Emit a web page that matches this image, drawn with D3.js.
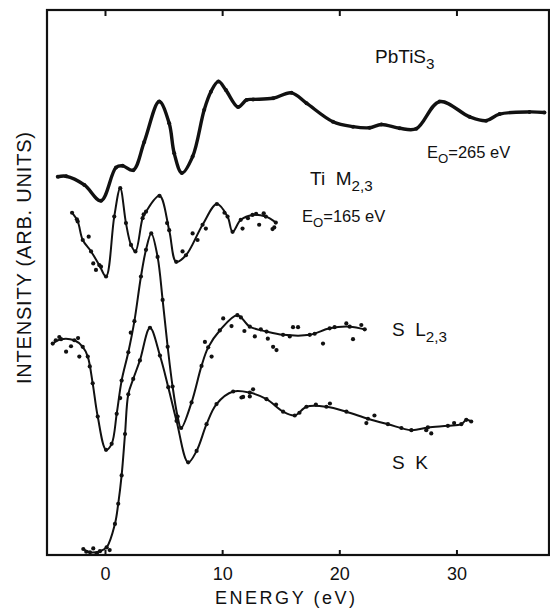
<!DOCTYPE html>
<html>
<head>
<meta charset="utf-8">
<script src="https://cdn.jsdelivr.net/npm/d3@7.9.0/dist/d3.min.js"></script>
<style>
  body { margin: 0; background: #fff; }
  svg text { font-family: "Liberation Sans", Arial, sans-serif; fill: #111; white-space: pre; }
</style>
</head>
<body>
<svg width="550" height="608"></svg>
<script>
// energy (eV) vs intensity (arb. units, 0-100)
const ti265 = [
  [-4.03, 69.4], [-3.32, 69.5], [-1.76, 67.9], [-0.34, 65.0], [0.94, 71.1], [1.51, 71.4],
  [2.41, 70.6], [3.35, 75.8], [4.63, 83.2], [5.48, 79.2], [5.91, 73.7], [6.56, 70.1],
  [7.48, 73.1], [8.47, 81.7], [9.04, 85.0], [9.68, 86.9], [10.32, 85.3], [11.36, 82.2],
  [12.08, 83.5], [12.64, 83.6], [14.35, 83.8], [15.92, 84.8], [17.20, 82.9], [19.46, 79.5],
  [21.17, 78.6], [22.59, 78.4], [23.59, 79.0], [25.15, 78.3], [26.57, 78.2], [28.56, 83.2],
  [31.12, 80.4], [32.54, 79.7], [33.68, 80.9], [36.23, 81.3], [37.51, 81.2]
];
const ti165 = [
  [-2.81, 62.8], [-2.33, 61.2], [-1.90, 57.8], [-1.19, 55.7], [-0.49, 53.2], [0.09, 51.1],
  [0.79, 62.1], [1.30, 67.3], [1.79, 60.9], [2.22, 56.9], [2.60, 55.7], [3.21, 61.8],
  [3.50, 63.0], [4.65, 65.9], [5.48, 59.6], [6.08, 53.8], [6.91, 55.0], [8.33, 60.6],
  [9.55, 64.4], [10.46, 62.1], [10.89, 59.3], [11.59, 61.5], [12.59, 62.4], [13.73, 62.1],
  [14.58, 61.0]
];
const ti165Scatter = [
  [-2.4, 61.6], [-1.39, 58.4], [-0.77, 52.3], [-0.34, 52.9], [-1.0, 53.5], [6.62, 55.7],
  [7.48, 59.0], [7.90, 57.8], [8.61, 59.9], [3.3, 62.5], [10.2, 62.8], [11.74, 59.9],
  [12.2, 61.8], [13.16, 60.6], [13.55, 62.7], [14.3, 59.8], [14.45, 60.1], [12.9, 62.6], [5.3, 60.9]
];
const sL23 = [
  [-4.46, 38.8], [-3.75, 39.6], [-2.62, 39.4], [-1.90, 38.2], [-1.47, 36.4], [-1.05, 31.5],
  [-0.62, 25.4], [0.09, 19.3], [0.57, 20.4], [1.00, 25.9], [1.42, 32.0], [1.99, 37.2],
  [2.51, 42.9], [3.07, 51.1], [3.50, 56.0], [3.95, 59.0], [4.49, 54.7], [4.92, 46.8],
  [5.35, 38.2], [5.77, 30.9], [6.20, 25.4], [6.50, 23.3], [7.39, 28.0], [8.24, 34.7],
  [8.81, 38.1], [9.80, 41.2], [11.30, 44.0], [12.36, 41.9], [13.79, 41.0], [15.20, 40.4],
  [17.48, 40.4], [19.18, 41.6], [20.89, 41.9], [22.17, 41.4]
];
const sL23Scatter = [
  [-4.2, 39.4], [-3.32, 37.3], [-2.9, 38.3], [-2.19, 36.4], [-3.9, 40.0], [-2.3, 39.8],
  [-1.3, 34.6], [8.53, 39.1], [9.1, 36.4], [10.09, 43.4], [10.8, 42.0], [11.6, 43.6],
  [12.79, 40.1], [13.3, 41.4], [14.35, 38.2], [14.64, 37.6], [15.77, 40.1], [16.05, 41.8],
  [16.48, 41.8], [17.9, 40.6], [18.61, 38.8], [19.6, 41.8], [20.6, 42.5], [21.17, 39.6],
  [21.88, 42.2], [13.9, 39.7], [11.9, 41.1], [2.2, 40.8], [1.3, 28.8]
];
const sK = [
  [-1.85, 1.1], [-1.28, 0.5], [-0.43, 0.7], [0.14, 1.4], [0.85, 5.7], [1.13, 9.4],
  [1.42, 14.6], [1.71, 22.2], [1.99, 29.5], [2.41, 32.3], [2.98, 35.7], [3.84, 41.7],
  [4.69, 36.6], [5.40, 30.8], [6.11, 24.6], [7.10, 17.0], [7.82, 19.1], [8.67, 24.0],
  [9.52, 27.7], [10.94, 30.0], [12.36, 29.8], [13.79, 28.6], [15.20, 26.3], [16.20, 25.6],
  [17.20, 27.2], [18.90, 27.2], [20.61, 26.3], [22.45, 25.0], [24.15, 24.0], [26.15, 22.9],
  [27.56, 23.4], [29.27, 23.7], [30.41, 24.0], [30.84, 24.8], [31.26, 24.5]
];
const sKScatter = [
  [-1.6, 0.6], [-1.0, 1.2], [-0.7, 0.3], [0.4, 0.9], [11.65, 28.9], [12.36, 29.1],
  [12.64, 30.4], [11.79, 29.0], [14.6, 27.6], [16.6, 26.1], [19.2, 27.8], [22.31, 24.2],
  [25.3, 23.3], [27.42, 22.9], [27.85, 22.3], [23.0, 25.6], [29.8, 24.2], [18.0, 27.6]
];
const xTicks = [0, 10, 20, 30];

const svg = d3.select("svg");
const mLeft = 47, mRight = 549, mTop = 10, mBottom = 555;

const x = d3.scaleLinear().domain([-4.95, 37.9]).range([mLeft, mRight]);
const y = d3.scaleLinear().domain([0, 100]).range([mBottom, mTop]);

// frame
svg.append("rect")
  .attr("x", mLeft).attr("y", mTop)
  .attr("width", mRight - mLeft).attr("height", mBottom - mTop)
  .attr("fill", "none").attr("stroke", "#111").attr("stroke-width", 2.2);

// bottom axis: ticks inward
const xb = svg.append("g").attr("transform", `translate(0,${mBottom})`)
  .call(d3.axisBottom(x).tickValues(xTicks).tickSize(-5).tickPadding(12));
xb.select(".domain").remove();
xb.selectAll("line").attr("stroke", "#111").attr("stroke-width", 2);
xb.selectAll("text").attr("font-size", 18).attr("fill", "#111")
  .style("font-family", "'Liberation Sans', Arial, sans-serif");

// top axis: ticks inward, no labels
const xt = svg.append("g").attr("transform", `translate(0,${mTop})`)
  .call(d3.axisTop(x).tickValues(xTicks).tickSize(-6).tickFormat(""));
xt.select(".domain").remove();
xt.selectAll("line").attr("stroke", "#111").attr("stroke-width", 2);

const line = d3.line()
  .x(d => x(d[0])).y(d => y(d[1]))
  .curve(d3.curveCatmullRom.alpha(0.5));

function drawSeries(data, scatter, width, r) {
  svg.append("path").datum(data)
    .attr("d", line)
    .attr("fill", "none").attr("stroke", "#111")
    .attr("stroke-width", width).attr("stroke-linejoin", "round");
  svg.append("g").selectAll("circle")
    .data(data.concat(scatter))
    .join("circle")
    .attr("cx", d => x(d[0])).attr("cy", d => y(d[1]))
    .attr("r", r).attr("fill", "#111");
}

drawSeries(ti265, [], 3.4, 2);
drawSeries(ti165, ti165Scatter, 2, 2.1);
drawSeries(sL23, sL23Scatter, 2, 2.1);
drawSeries(sK, sKScatter, 2, 2.1);

// labels
function label(xp, yp, parts, size) {
  const t = svg.append("text").attr("x", xp).attr("y", yp).attr("font-size", size);
  parts.forEach(p => {
    const ts = t.append("tspan").text(p.t);
    if (p.sub) ts.attr("font-size", size * 0.8).attr("dy", size * 0.3);
    if (p.up) ts.attr("dy", -size * 0.3);
  });
  return t;
}
label(375, 63, [{t: "PbTiS"}, {t: "3", sub: true}], 19);
label(427, 158, [{t: "E"}, {t: "O", sub: true}, {t: "=265 eV", up: true}], 16.5);
label(310, 185, [{t: "Ti  M"}, {t: "2,3", sub: true}], 19);
label(302, 222, [{t: "E"}, {t: "O", sub: true}, {t: "=165 eV", up: true}], 16.5);
label(392, 336, [{t: "S  L"}, {t: "2,3", sub: true}], 19);
label(392, 469, [{t: "S  K"}], 19);

svg.append("text")
  .attr("x", 215).attr("y", 604)
  .attr("font-size", 18)
  .attr("textLength", 140).attr("lengthAdjust", "spacing")
  .text("ENERGY (eV)");

svg.append("text")
  .attr("transform", "translate(31,384) rotate(-90)")
  .attr("font-size", 20)
  .attr("textLength", 252).attr("lengthAdjust", "spacing")
  .text("INTENSITY (ARB. UNITS)");
</script>
</body>
</html>
